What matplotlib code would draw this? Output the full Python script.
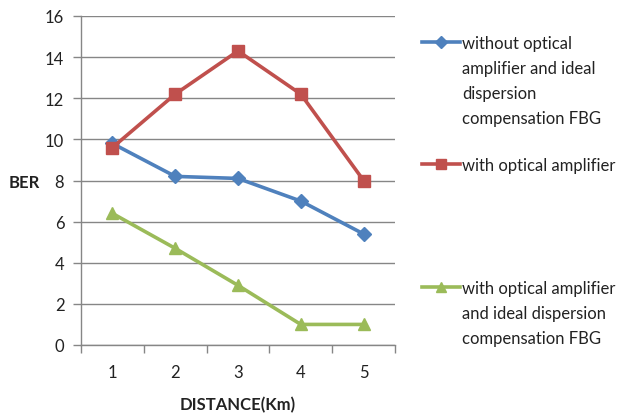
import matplotlib
matplotlib.use("Agg")
import matplotlib.pyplot as plt
from matplotlib.lines import Line2D

plt.rcParams['font.family'] = ['Lato', 'DejaVu Sans']

distance_km = [1, 2, 3, 4, 5]
tick_labels = ['1', '2', '3', '4', '5']
without_amp_ideal_fbg = [9.8, 8.2, 8.1, 7.0, 5.4]
with_amp = [9.6, 12.2, 14.3, 12.2, 8.0]
with_amp_ideal_fbg = [6.4, 4.7, 2.9, 1.0, 1.0]

series_labels = [
    "without optical\namplifier and ideal\ndispersion\ncompensation FBG",
    "with optical amplifier",
    "with optical amplifier\nand ideal dispersion\ncompensation FBG",
]
colors = ['#4F81BD', '#C0504D', '#9BBB59']
markers = ['D', 's', '^']
msizes = [7, 9, 9]
text_c = '#222222'

W, H = 619, 414
fig = plt.figure(figsize=(W / 100, H / 100), dpi=100)
ax = fig.add_axes([81 / W, 1 - 346 / H, 314 / W, 329 / H])

grid_c = '#868686'
series = [without_amp_ideal_fbg, with_amp, with_amp_ideal_fbg]
lines = []
for vals, c, m, ms in zip(series, colors, markers, msizes):
    ln, = ax.plot(distance_km, vals, color=c, lw=2.6, marker=m, ms=ms,
                  markeredgecolor=c, zorder=3)
    lines.append(ln)

ax.set_xlim(0.5, 5.5)
ax.set_ylim(0, 16)
ax.set_yticks(range(0, 17, 2))
ax.set_xticks(distance_km)
ax.set_xticklabels(tick_labels)
ax.set_xticks([0.5, 1.5, 2.5, 3.5, 4.5, 5.5], minor=True)
ax.tick_params(axis='x', which='major', length=0, pad=14, labelsize=12,
               colors=text_c)
ax.tick_params(axis='x', which='minor', length=6, width=1, color=grid_c,
               direction='out')
ax.tick_params(axis='y', length=6, width=1, color=grid_c, pad=6,
               labelsize=12, labelcolor=text_c)
ax.grid(axis='y', color=grid_c, lw=1)
ax.set_axisbelow(True)
for s in ['top', 'right']:
    ax.spines[s].set_visible(False)
for s in ['left', 'bottom']:
    ax.spines[s].set_color(grid_c)
    ax.spines[s].set_linewidth(1)

ax.set_xlabel('DISTANCE(Km)', fontsize=12, fontweight='bold', labelpad=11,
              color=text_c)
fig.text(9 / W, 1 - 183 / H, 'BER', fontsize=12, fontweight='bold',
         va='center', ha='left', color=text_c)

# legend entries drawn by hand: sample line + wrapped label, first line aligned
legend_rows = [43, 165, 288]
for ln, lab, row in zip(lines, series_labels, legend_rows):
    y = 1 - row / H
    fig.add_artist(Line2D([422 / W, 460 / W], [y, y], color=ln.get_color(),
                          lw=2.6, transform=fig.transFigure))
    fig.add_artist(Line2D([441 / W], [y], color=ln.get_color(),
                          marker=ln.get_marker(),
                          ms=ln.get_markersize() * 0.85,
                          markeredgecolor=ln.get_color(),
                          transform=fig.transFigure))
    fig.text(462 / W, y + 7 / H, lab, fontsize=12, color=text_c,
             ha='left', va='top', linespacing=1.7)

fig.savefig('out.png', dpi=100)
